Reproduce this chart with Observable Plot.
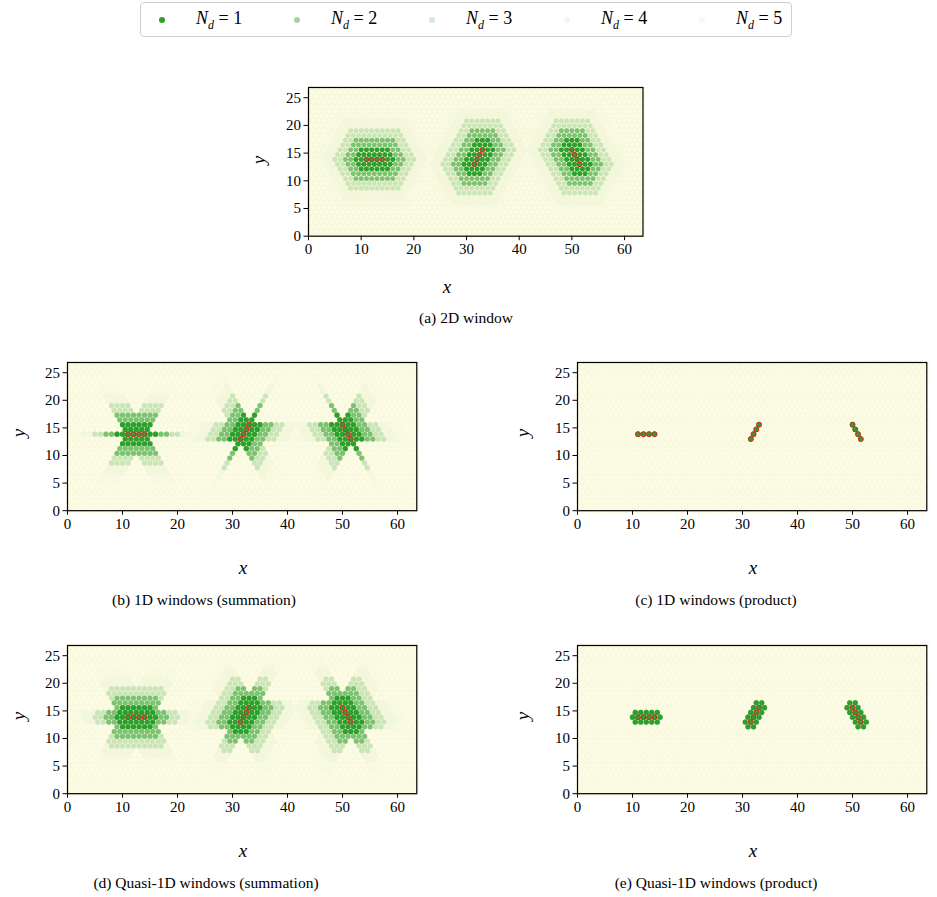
<!DOCTYPE html>
<html>
<head>
<meta charset="utf-8">
<script src="https://cdn.jsdelivr.net/npm/d3@7"></script>
<script src="https://cdn.jsdelivr.net/npm/@observablehq/plot@0.6"></script>
<style>
  body { margin: 0; background: #fff; }
  #fig { position: relative; width: 937px; height: 897px; font-family: "Liberation Serif", "DejaVu Serif", serif; color: #000; overflow: hidden; }
  .panel { position: absolute; }
  .cap { position: absolute; font-size: 15.5px; transform: translateX(-50%); white-space: nowrap; }
  .lab { position: absolute; font-size: 19px; font-style: italic; transform: translate(-50%, -50%); }
  .ylab { transform: translate(-50%, -50%) rotate(-90deg); }
  #legend { position: absolute; left: 140px; top: 2px; width: 650px; height: 33px; border: 1px solid #cfcfcf; border-radius: 4px; background: #fff; }
  .ldot { position: absolute; width: 6px; height: 6px; border-radius: 50%; top: 14px; }
  .ltxt { position: absolute; top: 5px; font-size: 18px; white-space: nowrap; }
  .ltxt sub { font-size: 12px; }
</style>
</head>
<body>
<div id="fig"><div id="legend"></div></div>
<script>
// Triangular lattice: 64 sites per row, 32 rows, odd rows shifted by half a spacing
const latticeCols = 64;
const latticeRows = 32;
const rowStep = Math.sqrt(3) / 2;

// Defect chains: x position and row index of each defect site
const defectX = [11, 12, 13, 14, 31.5, 32, 32.5, 33, 50, 50.5, 51, 51.5];
const defectRow = [16, 16, 16, 16, 15, 16, 17, 18, 18, 17, 16, 15];

// Window depth levels and the half-length (in sites) reached at each level
const depthLevels = [1, 2, 3, 4, 5];
const levelReach = [2, 4, 6, 8, 10];
const levelOpacity = [1, 0.5, 0.2, 0.035, 0.01];
const legendOpacity = [1, 0.45, 0.22, 0.08, 0.06];

const xTicks = [0, 10, 20, 30, 40, 50, 60];
const yTicks = [0, 5, 10, 15, 20, 25];

const green = "#2ca02c";
const red = "#d62728";
const plotBg = "#f6f6d4";
const siteFill = "#fbfbe6";

const sites = [];
for (let r = 0; r < latticeRows; r++)
  for (let c = 0; c < latticeCols; c++)
    sites.push({x: c + (r % 2) * 0.5, y: r * rowStep});

const defects = defectX.map((x, i) => ({x, y: defectRow[i] * rowStep}));
const directions = [[1, 0], [0.5, rowStep], [-0.5, rowStep]];

// Is offset (vx, vy) inside a window of half-length L?
function inWindow(kind, vx, vy, L) {
  if (kind === "2d") {
    const b = vy / rowStep, a = vx - 0.5 * b;
    return (Math.abs(a) + Math.abs(b) + Math.abs(a + b)) / 2 <= L + 1e-6;
  }
  const strip = kind.startsWith("strip");
  const hits = directions.map(([ux, uy]) => {
    const par = vx * ux + vy * uy;
    const perp = Math.abs(vx * uy - vy * ux);
    return strip ? (perp < rowStep + 0.05 && Math.abs(par) <= L + 0.01)
                 : (perp < 0.05 && Math.abs(par) <= L + 0.01);
  });
  return kind.endsWith("sum") ? hits.some(Boolean) : hits.every(Boolean);
}

function windowSites(kind, L) {
  return sites.filter(s => defects.some(d => inWindow(kind, s.x - d.x, s.y - d.y, L)));
}

const panels = [
  {kind: "2d", caption: "(a) 2D window", frame: [308.3, 87, 334.5, 148.7], xlab: [447, 287], ylab: [259, 160], cap: [466, 309]},
  {kind: "line-sum", caption: "(b) 1D windows (summation)", frame: [67, 361.8, 349.3, 148.2], xlab: [243, 568], ylab: [19, 433], cap: [204, 591]},
  {kind: "line-prod", caption: "(c) 1D windows (product)", frame: [577, 361.8, 349.3, 148.2], xlab: [753, 568], ylab: [523, 433], cap: [716, 591]},
  {kind: "strip-sum", caption: "(d) Quasi-1D windows (summation)", frame: [67, 644.8, 349.3, 148.2], xlab: [243, 851], ylab: [19, 716], cap: [206, 874]},
  {kind: "strip-prod", caption: "(e) Quasi-1D windows (product)", frame: [577, 644.8, 349.3, 148.2], xlab: [753, 851], ylab: [523, 716], cap: [716, 874]}
];

const fig = document.getElementById("fig");
const mL = 55, mR = 12, mT = 8, mB = 30;

for (const p of panels) {
  const [fl, ft, fw, fh] = p.frame;
  const dotR = fw / 63.5 * 0.47;
  const marks = [
    Plot.frame({fill: plotBg}),
    Plot.dot(sites, {x: "x", y: "y", r: dotR, fill: siteFill})
  ];
  // Widest window first, so the deeper levels stack on top
  for (let i = depthLevels.length - 1; i >= 0; i--) {
    marks.push(Plot.dot(windowSites(p.kind, levelReach[i]), {x: "x", y: "y", r: dotR, fill: green, fillOpacity: levelOpacity[i]}));
  }
  marks.push(Plot.dot(defects, {x: "x", y: "y", r: dotR * 0.95, fill: "none", stroke: red, strokeWidth: 1}));
  marks.push(Plot.frame({stroke: "#000", strokeWidth: 1.2}));
  marks.push(Plot.axisX({ticks: xTicks, tickSize: 4.5, tickPadding: 3, fontSize: 15, label: null}));
  marks.push(Plot.axisY({ticks: yTicks, tickSize: 4.5, tickPadding: 3, fontSize: 15, label: null}));

  const svg = Plot.plot({
    width: mL + fw + mR,
    height: mT + fh + mB,
    marginLeft: mL, marginRight: mR, marginTop: mT, marginBottom: mB,
    x: {domain: [0, (latticeCols - 1) + 0.5]},
    y: {domain: [0, (latticeRows - 1) * rowStep]},
    style: "font-family: 'Liberation Serif', 'DejaVu Serif', serif; font-size: 15px; background: transparent; color: #000;",
    marks
  });
  svg.classList.add("panel");
  svg.style.left = (fl - mL) + "px";
  svg.style.top = (ft - mT) + "px";
  fig.appendChild(svg);

  const xl = document.createElement("div");
  xl.className = "lab"; xl.textContent = "x";
  xl.style.left = p.xlab[0] + "px"; xl.style.top = p.xlab[1] + "px";
  fig.appendChild(xl);
  const yl = document.createElement("div");
  yl.className = "lab ylab"; yl.textContent = "y";
  yl.style.left = p.ylab[0] + "px"; yl.style.top = p.ylab[1] + "px";
  fig.appendChild(yl);
  const cap = document.createElement("div");
  cap.className = "cap"; cap.textContent = p.caption;
  cap.style.left = p.cap[0] + "px"; cap.style.top = p.cap[1] + "px";
  fig.appendChild(cap);
}

// Legend: one entry per depth level
const legend = document.getElementById("legend");
const legendDotX = [21, 156, 291, 426, 561];
depthLevels.forEach((k, i) => {
  const dot = document.createElement("div");
  dot.className = "ldot";
  dot.style.left = (legendDotX[i] - 3) + "px";
  dot.style.background = green;
  dot.style.opacity = legendOpacity[i];
  legend.appendChild(dot);
  const t = document.createElement("div");
  t.className = "ltxt";
  t.style.left = (legendDotX[i] + 34) + "px";
  t.innerHTML = `<i>N</i><sub><i>d</i></sub> = ${k}`;
  legend.appendChild(t);
});
</script>
</body>
</html>
